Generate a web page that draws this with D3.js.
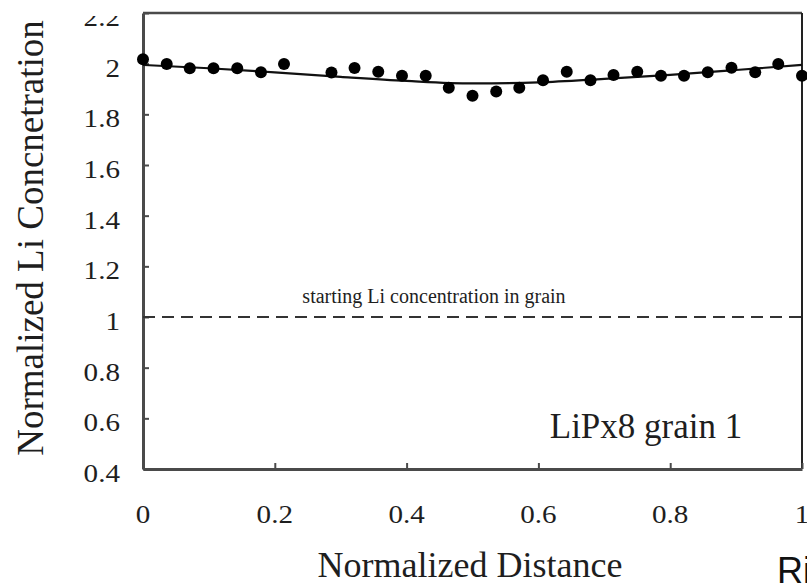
<!DOCTYPE html>
<html>
<head>
<meta charset="utf-8">
<script src="https://cdn.jsdelivr.net/npm/d3@7"></script>
<style>
  html, body { margin: 0; padding: 0; background: #fff; }
  svg { display: block; }
</style>
</head>
<body>
<script>
// Measured Li concentration along the grain (normalized units)
const distances = [0, 0.036, 0.071, 0.107, 0.143, 0.179, 0.214, 0.286, 0.321, 0.357,
  0.393, 0.429, 0.464, 0.500, 0.536, 0.571, 0.607, 0.643, 0.679, 0.714,
  0.750, 0.786, 0.821, 0.857, 0.893, 0.929, 0.964, 1.000];
const concentration = [2.017, 1.999, 1.982, 1.982, 1.982, 1.966, 1.999, 1.965, 1.983, 1.968,
  1.952, 1.952, 1.905, 1.873, 1.890, 1.905, 1.935, 1.968, 1.935, 1.955,
  1.968, 1.952, 1.952, 1.966, 1.984, 1.966, 1.999, 1.952];

// Model curve
const fitDistance = [0, 0.1, 0.2, 0.3, 0.4, 0.5, 0.6, 0.7, 0.8, 0.9, 1.0];
const fitConcentration = [1.995, 1.982, 1.966, 1.948, 1.932, 1.922, 1.926, 1.940, 1.956, 1.975, 1.995];

const startingLevel = 1;
const xTicks = [0, 0.2, 0.4, 0.6, 0.8, 1];
const yTicks = [0.4, 0.6, 0.8, 1, 1.2, 1.4, 1.6, 1.8, 2, 2.2];

const W = 807, H = 585;
const svg = d3.select("body").append("svg").attr("width", W).attr("height", H);

const x = d3.scaleLinear().domain([0, 1]).range([143, 802]);
const y = d3.scaleLinear().domain([0.4, 2.2]).range([469, 13]);

const serif = "'Liberation Serif', 'Times New Roman', serif";
const axisColor = "#4a4a4a";
const textColor = "#1e1e1e";

// clip for the top label, which is partly cut off
svg.append("defs").append("clipPath").attr("id", "topclip")
  .append("rect").attr("x", 0).attr("y", 16).attr("width", W).attr("height", H);

// frame: top and right borders
svg.append("line").attr("x1", x(0)).attr("x2", x(1)).attr("y1", y(2.2)).attr("y2", y(2.2))
  .attr("stroke", axisColor).attr("stroke-width", 2.5);
svg.append("line").attr("x1", x(1)).attr("x2", x(1)).attr("y1", y(2.2)).attr("y2", y(0.4))
  .attr("stroke", "#222").attr("stroke-width", 2);

// axes with inward ticks
const xAxis = d3.axisBottom(x).tickValues(xTicks).tickSizeInner(-6).tickSizeOuter(0).tickFormat("");
const yAxis = d3.axisLeft(y).tickValues(yTicks).tickSizeInner(-6).tickSizeOuter(0).tickFormat("");

const gx = svg.append("g").attr("transform", `translate(0,${y(0.4)})`).call(xAxis);
const gy = svg.append("g").attr("transform", `translate(${x(0)},0)`).call(yAxis);
[gx, gy].forEach(g => {
  g.select(".domain").attr("stroke", axisColor).attr("stroke-width", 3);
  g.selectAll(".tick line").attr("stroke", axisColor).attr("stroke-width", 2);
});

// tick labels
const fmt = d => String(+d.toFixed(1));
svg.append("g").selectAll("text").data(xTicks).join("text")
  .attr("transform", d => `translate(${x(d)},523) scale(1.12,1)`)
  .attr("text-anchor", "middle")
  .attr("font-family", serif).attr("font-size", 26).attr("fill", textColor)
  .text(fmt);

const yLabels = svg.append("g");
yLabels.selectAll("text").data(yTicks.filter(d => d !== 2.2)).join("text")
  .attr("transform", d => `translate(120,${y(d) + 13}) scale(1.12,1)`)
  .attr("text-anchor", "end")
  .attr("font-family", serif).attr("font-size", 26).attr("fill", textColor)
  .text(fmt);
// the uppermost label is cut off at the top
svg.append("g").attr("clip-path", "url(#topclip)")
  .selectAll("text").data(yTicks.filter(d => d === 2.2)).join("text")
  .attr("transform", d => `translate(120,${y(d) + 13}) scale(1.12,1)`)
  .attr("text-anchor", "end")
  .attr("font-family", serif).attr("font-size", 26).attr("fill", textColor)
  .text(fmt);

// starting concentration reference
svg.append("line")
  .attr("x1", x(0)).attr("x2", x(1))
  .attr("y1", y(startingLevel)).attr("y2", y(startingLevel))
  .attr("stroke", "#333").attr("stroke-width", 2).attr("stroke-dasharray", "12,7");

svg.append("text").attr("x", 434).attr("y", 303).attr("text-anchor", "middle")
  .attr("font-family", serif).attr("font-size", 20).attr("fill", textColor)
  .text("starting Li concentration in grain");

// model line
const line = d3.line().x((d, i) => x(fitDistance[i])).y(d => y(d)).curve(d3.curveMonotoneX);
svg.append("path").datum(fitConcentration).attr("d", line)
  .attr("fill", "none").attr("stroke", "#111").attr("stroke-width", 2.2);

// measured points
svg.append("g").selectAll("circle").data(concentration).join("circle")
  .attr("cx", (d, i) => x(distances[i])).attr("cy", d => y(d)).attr("r", 6)
  .attr("fill", "#000");

// labels
svg.append("text").attr("x", 646).attr("y", 438).attr("text-anchor", "middle")
  .attr("font-family", serif).attr("font-size", 35).attr("fill", textColor)
  .text("LiPx8 grain 1");

svg.append("text").attr("x", 470).attr("y", 577).attr("text-anchor", "middle")
  .attr("font-family", serif).attr("font-size", 36).attr("fill", textColor)
  .text("Normalized Distance");

svg.append("text").attr("transform", "translate(43,238) rotate(-90)")
  .attr("text-anchor", "middle")
  .attr("font-family", serif).attr("font-size", 37).attr("fill", textColor)
  .text("Normalized Li Concnetration");

svg.append("text").attr("x", 777).attr("y", 583)
  .attr("font-family", "'Liberation Sans', Arial, sans-serif").attr("font-size", 36).attr("fill", "#111")
  .text("Ri");
</script>
</body>
</html>
